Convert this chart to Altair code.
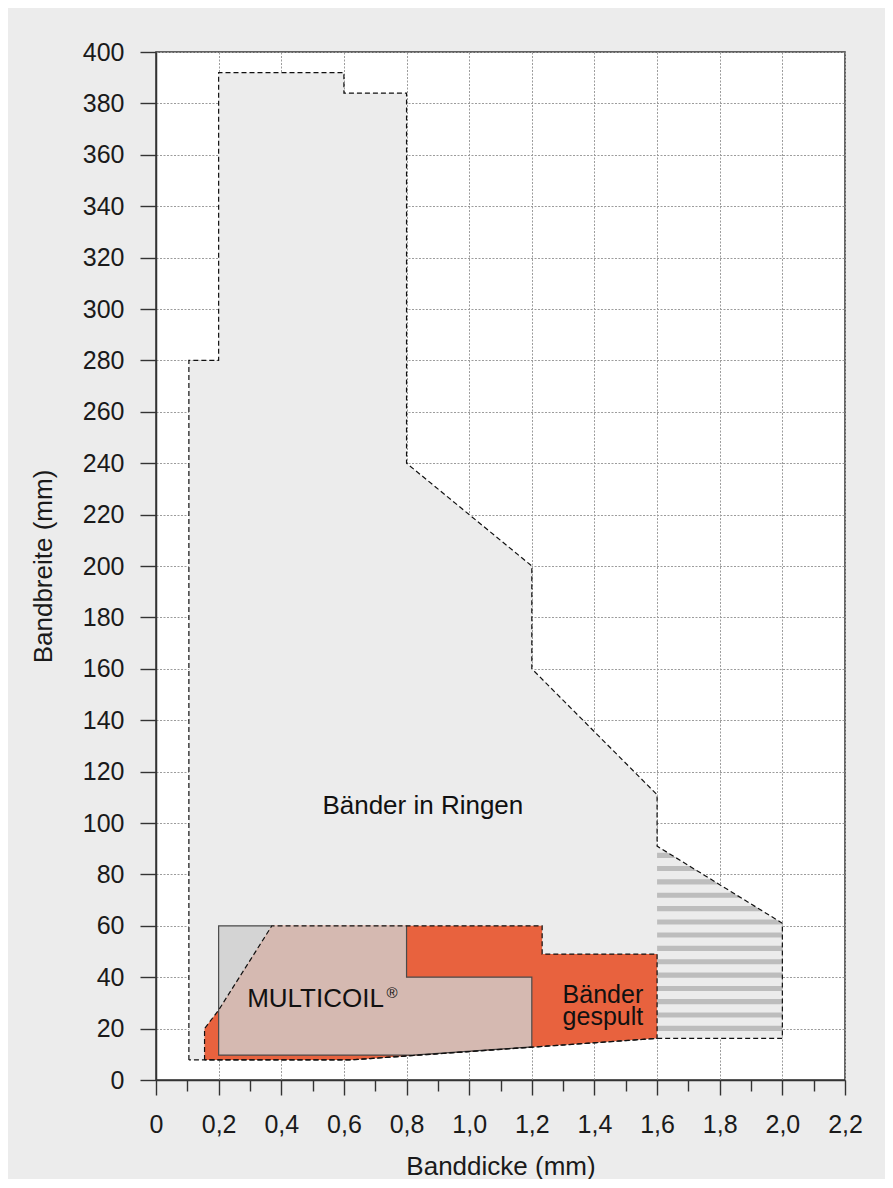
import altair as alt
import pandas as pd

# ---- data ----
RING_X = [0.105, 0.105, 0.2, 0.2, 0.6, 0.6, 0.8, 0.8, 1.2, 1.2, 1.6, 1.6, 2.0, 2.0, 1.6, 0.62, 0.105]
RING_Y = [7.8, 280, 280, 392, 392, 384, 384, 240, 200, 160, 111, 91, 61, 16.2, 16.2, 7.8, 7.8]

ORANGE_X = [0.155, 0.155, 0.2, 0.37, 1.233, 1.233, 1.6, 1.6, 0.62, 0.155]
ORANGE_Y = [7.8, 20, 27.2, 60, 60, 49, 49, 16.2, 7.8, 7.8]

GREY_X = [0.2, 0.2, 0.37, 0.2]
GREY_Y = [27.2, 60, 60, 27.2]

PINK_X = [0.2, 0.2, 0.37, 0.8, 0.8, 1.2, 1.2, 0.82, 0.2]
PINK_Y = [9.7, 27.2, 60, 60, 40, 40, 12.9, 9.7, 9.7]

EDGE_X = [0.37, 0.2, 0.2, 0.82, 1.2, 1.2, 0.8, 0.8]
EDGE_Y = [60, 60, 9.7, 9.7, 12.9, 40, 40, 60]

# hatched zone (x from 1.6 to 2.0, top edge from (1.6, 91) to (2.0, 61))
HATCH_X = [1.6, 2.0]
HATCH_TOP = [91, 61]
STRIPES = [20.1, 25.3, 30.5, 35.6, 40.8, 46.0, 51.2, 56.4, 61.5, 66.7, 71.9, 77.1, 82.3, 87.4]
STRIPE_HALF = 1.0

X_TICKS = [0, 0.1, 0.2, 0.3, 0.4, 0.5, 0.6, 0.7, 0.8, 0.9, 1.0, 1.1, 1.2, 1.3, 1.4, 1.5,
           1.6, 1.7, 1.8, 1.9, 2.0, 2.1, 2.2]
Y_TICKS = [0, 20, 40, 60, 80, 100, 120, 140, 160, 180, 200, 220, 240, 260, 280, 300,
           320, 340, 360, 380, 400]

LABELS = ["Bänder in Ringen", "MULTICOIL", "®", "Bänder\ngespult"]
LABEL_X = [0.852, 0.291, 0.736, 1.427]
LABEL_Y = [106.6, 31.5, 34.0, 32.9]

FONT = "Liberation Sans"
W, H = 689, 1028


def poly(xs, ys, name):
    return pd.DataFrame({"x": xs, "y": ys, "i": range(len(xs)), "sid": name})


def right_edge(y):
    x0, x1 = HATCH_X
    t0, t1 = HATCH_TOP
    xr = x0 + (t0 - y) * (x1 - x0) / (t0 - t1)
    return min(x1, xr)


stripe_frames = []
for k, c in enumerate(STRIPES):
    lo, hi = c - STRIPE_HALF, c + STRIPE_HALF
    xs = [HATCH_X[0], right_edge(lo)]
    ys = [lo, lo]
    if lo < HATCH_TOP[1] < hi:
        xs.append(HATCH_X[1])
        ys.append(HATCH_TOP[1])
    xs += [right_edge(hi), HATCH_X[0], HATCH_X[0]]
    ys += [hi, hi, lo]
    stripe_frames.append(poly(xs, ys, f"s{k}"))
stripes_df = pd.concat(stripe_frames, ignore_index=True)

xscale = alt.Scale(domain=[0, 2.2], nice=False, zero=False)
yscale = alt.Scale(domain=[0, 400], nice=False, zero=False)

MAJOR = "round(datum.value*10) % 2 == 0"

x_axis = alt.Axis(
    values=X_TICKS,
    title="Banddicke (mm)",
    grid=True,
    gridColor="#9c9c9c",
    gridDash=[2, 1.5],
    gridWidth=1,
    gridOpacity={"condition": {"test": MAJOR, "value": 1}, "value": 0},
    tickSize={"condition": {"test": MAJOR, "value": 15}, "value": 11},
    tickColor="#333",
    tickWidth=1.4,
    domainColor="#333",
    domainWidth=1.5,
    labelExpr=("round(datum.value*10) % 2 == 0 ? (datum.value == 0 ? '0' : "
               "replace(format(datum.value, '.1f'), '.', ',')) : ''"),
    labelFont=FONT,
    labelFontSize=25,
    labelColor="#1a1a1a",
    labelBaseline="middle",
    labelPadding=29,
    labelFlush=False,
    labelOverlap=False,
    titleFont=FONT,
    titleFontSize=26,
    titleFontWeight="normal",
    titleColor="#1a1a1a",
    titleX=W / 2,
    titleY=86,
    titleAlign="center",
    titleBaseline="middle",
)

y_axis = alt.Axis(
    values=Y_TICKS,
    title="Bandbreite (mm)",
    grid=True,
    gridColor="#9c9c9c",
    gridDash=[2, 1.5],
    gridWidth=1,
    tickSize=16,
    tickColor="#333",
    tickWidth=1.4,
    domainColor="#333",
    domainWidth=1.5,
    labelFont=FONT,
    labelFontSize=25,
    labelColor="#1a1a1a",
    labelPadding=16,
    labelOverlap=False,
    labelFlush=False,
    titleFont=FONT,
    titleFontSize=26,
    titleFontWeight="normal",
    titleColor="#1a1a1a",
    titleAngle=270,
    titleX=-113,
    titleY=H / 2,
    titleAlign="center",
    titleBaseline="middle",
)

X_ENC = alt.X("x:Q", scale=xscale, axis=x_axis)
Y_ENC = alt.Y("y:Q", scale=yscale, axis=y_axis)


def enc(ch):
    return ch.encode(x=X_ENC, y=Y_ENC, order=alt.Order("i:Q"), detail="sid:N")


ring_df = poly(RING_X, RING_Y, "ring")
orange_df = poly(ORANGE_X, ORANGE_Y, "orange")
grey_df = poly(GREY_X, GREY_Y, "grey")
pink_df = poly(PINK_X, PINK_Y, "pink")
edge_df = poly(EDGE_X, EDGE_Y, "edge")

ring_fill = enc(alt.Chart(ring_df).mark_line(fill="#ececec", stroke="transparent", strokeWidth=0))
stripes = enc(alt.Chart(stripes_df).mark_line(fill="#bdbdbd", stroke="transparent", strokeWidth=0))
orange_fill = enc(alt.Chart(orange_df).mark_line(fill="#e8623e", stroke="transparent", strokeWidth=0))
grey_fill = enc(alt.Chart(grey_df).mark_line(fill="#d4d4d4", stroke="transparent", strokeWidth=0))
pink_fill = enc(alt.Chart(pink_df).mark_line(fill="#d5b9b1", stroke="transparent", strokeWidth=0))
edge_line = enc(alt.Chart(edge_df).mark_line(color="#4a4a4a", strokeWidth=1.2))
ring_line = enc(alt.Chart(ring_df).mark_line(color="#111111", strokeWidth=1.2, strokeDash=[5, 3]))
orange_line = enc(alt.Chart(orange_df).mark_line(color="#111111", strokeWidth=1.2, strokeDash=[5, 3]))

lab_df = pd.DataFrame({"x": LABEL_X, "y": LABEL_Y, "t": LABELS})
text_ring = alt.Chart(lab_df[lab_df.t == "Bänder in Ringen"]).mark_text(
    font=FONT, fontSize=26, color="#111", align="center", baseline="middle",
).encode(x=X_ENC, y=Y_ENC, text="t:N")
text_gesp = alt.Chart(lab_df[lab_df.t == "Bänder\ngespult"]).mark_text(
    font=FONT, fontSize=25, color="#111", align="center", baseline="middle",
    lineBreak="\n", lineHeight=22,
).encode(x=X_ENC, y=Y_ENC, text="t:N")
text_mc = alt.Chart(lab_df[lab_df.t == "MULTICOIL"]).mark_text(
    font=FONT, fontSize=26, color="#111", align="left", baseline="middle",
).encode(x=X_ENC, y=Y_ENC, text="t:N")
text_r = alt.Chart(lab_df[lab_df.t == "®"]).mark_text(
    font=FONT, fontSize=15, color="#111", align="left", baseline="middle",
).encode(x=X_ENC, y=Y_ENC, text="t:N")

chart = alt.layer(
    ring_fill, stripes, orange_fill, grey_fill, pink_fill, edge_line,
    ring_line, orange_line, text_ring, text_gesp, text_mc, text_r,
).properties(
    width=W, height=H,
    background="#ececec",
    padding={"left": 148, "top": 44, "right": 40, "bottom": 99},
    autosize=alt.AutoSizeParams(type="none"),
).configure_view(
    stroke="#333", strokeWidth=1.5, fill="white",
)

chart.save("out.html", embed_options={"renderer": "svg", "actions": False})
